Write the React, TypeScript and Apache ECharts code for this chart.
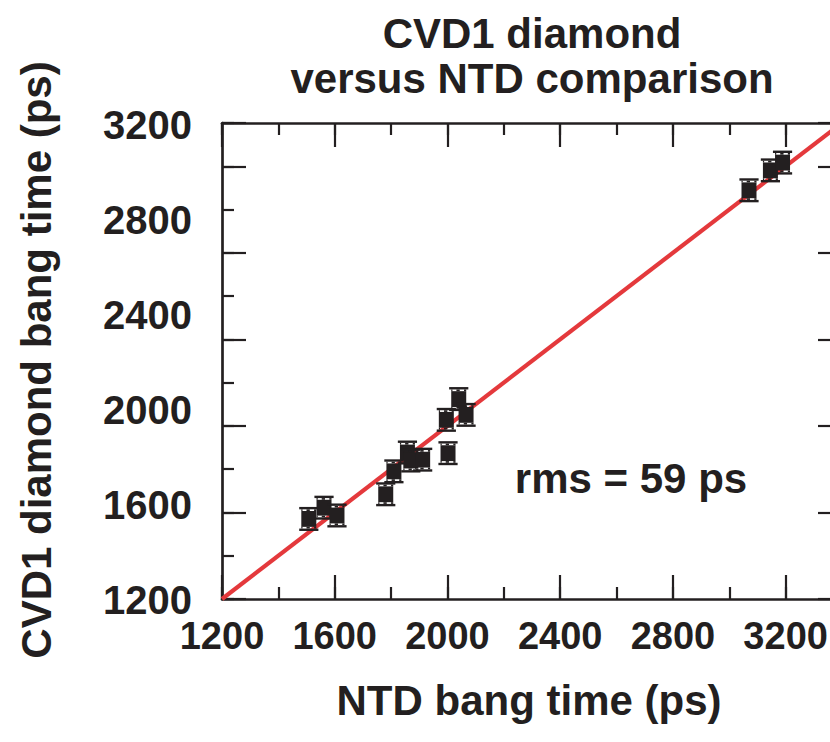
import React, { useEffect, useRef } from "react";
import * as echarts from "echarts";

// NTD (x) and CVD1 diamond (y) bang times, ps
const ntdBangTimes = [1508, 1562, 1608, 1781, 1810, 1858, 1870, 1912, 1996, 2002, 2040, 2066, 3070, 3146, 3189];
const cvdBangTimes = [1570, 1622, 1586, 1684, 1790, 1877, 1840, 1844, 2028, 1874, 2124, 2051, 3089, 3181, 3217];
const cvdErrors = [50, 50, 50, 50, 50, 50, 50, 50, 50, 50, 50, 50, 50, 50, 50];

// y = x reference line
const fitLineX = [1200, 3400];
const fitLineY = [1200, 3400];

// tick labels
const xTickValues = [1200, 1600, 2000, 2400, 2800, 3200];
const yTickValues = [1200, 1600, 2000, 2400, 2800, 3200];
const axisMax = 3400;

const INK = "#231f20";
const RED = "#e4393c";
const FONT = "'Liberation Sans', Arial, Helvetica, sans-serif";

export default function App() {
  const ref = useRef<HTMLDivElement>(null);

  useEffect(() => {
    if (!ref.current) return;
    const chart = echarts.init(ref.current, null, { renderer: "svg" });

    const min = xTickValues[0];
    const major = xTickValues[1] - xTickValues[0];
    const minor = major / 2;

    const points = ntdBangTimes.map((x, i) => [x, cvdBangTimes[i], cvdErrors[i]]);
    const line = fitLineX.map((x, i) => [x, fitLineY[i]]);
    const plain = (v: number) => String(v);

    const baseAxis = {
      type: "value",
      min,
      max: axisMax,
      splitLine: { show: false },
      gridIndex: 0,
    };
    const longTickAxis = (position: string, withLabels: boolean) => ({
      ...baseAxis,
      position,
      interval: major,
      axisLine: { show: true, onZero: false, lineStyle: { color: INK, width: 2.7 } },
      axisTick: { show: true, inside: true, length: 24, lineStyle: { color: INK, width: 2.2 } },
      axisLabel: withLabels
        ? {
            show: true,
            showMaxLabel: false,
            formatter: plain,
            margin: 18,
            fontSize: 38,
            fontWeight: "bold",
            fontFamily: FONT,
            color: INK,
          }
        : { show: false },
    });
    const shortTickAxis = (position: string) => ({
      ...baseAxis,
      position,
      interval: minor,
      axisLine: { show: false, onZero: false },
      axisTick: { show: true, inside: true, length: 12, lineStyle: { color: INK, width: 2.2 } },
      axisLabel: { show: false },
    });

    const option: any = {
      animation: false,
      backgroundColor: "#ffffff",
      title: {
        text: "CVD1 diamond\nversus NTD comparison",
        left: 532,
        top: 11,
        textAlign: "center",
        padding: 0,
        textStyle: {
          fontSize: 42,
          fontWeight: "bold",
          fontFamily: FONT,
          color: INK,
          lineHeight: 45,
        },
      },
      grid: [
        { left: 222, top: 123, width: 620, height: 476 },
        { left: 222, top: 125, width: 620, height: 475 },
      ],
      xAxis: [
        longTickAxis("bottom", true),
        shortTickAxis("bottom"),
        longTickAxis("top", false),
        shortTickAxis("top"),
        { type: "value", gridIndex: 1, show: false, min: 0, max: 1 },
      ],
      yAxis: [
        longTickAxis("left", false),
        shortTickAxis("left"),
        longTickAxis("right", false),
        shortTickAxis("right"),
        {
          type: "value",
          gridIndex: 1,
          position: "left",
          min: yTickValues[0],
          max: yTickValues[yTickValues.length - 1],
          interval: yTickValues[1] - yTickValues[0],
          axisLine: { show: false },
          axisTick: { show: false },
          splitLine: { show: false },
          axisLabel: {
            show: true,
            formatter: plain,
            margin: 30,
            fontSize: 40,
            fontWeight: "bold",
            fontFamily: FONT,
            color: INK,
          },
        },
      ],
      graphic: [
        {
          type: "text",
          x: 529,
          y: 700,
          style: {
            text: "NTD bang time (ps)",
            fontSize: 42,
            fontWeight: "bold",
            fontFamily: FONT,
            fill: INK,
            align: "center",
            verticalAlign: "middle",
            textAlign: "center",
            textVerticalAlign: "middle",
          },
        },
        {
          type: "text",
          x: 36,
          y: 360,
          rotation: Math.PI / 2,
          style: {
            text: "CVD1 diamond bang time (ps)",
            fontSize: 42,
            fontWeight: "bold",
            fontFamily: FONT,
            fill: INK,
            align: "center",
            verticalAlign: "middle",
            textAlign: "center",
            textVerticalAlign: "middle",
          },
        },
        {
          type: "text",
          x: 631,
          y: 478,
          style: {
            text: "rms = 59 ps",
            fontSize: 42,
            fontWeight: "bold",
            fontFamily: FONT,
            fill: INK,
            align: "center",
            verticalAlign: "middle",
            textAlign: "center",
            textVerticalAlign: "middle",
          },
        },
      ],
      series: [
        {
          type: "line",
          xAxisIndex: 0,
          yAxisIndex: 0,
          data: line,
          showSymbol: false,
          symbol: "none",
          lineStyle: { color: RED, width: 4.2 },
          z: 1,
          silent: true,
        },
        {
          type: "custom",
          xAxisIndex: 0,
          yAxisIndex: 0,
          data: points,
          z: 3,
          renderItem: (_params: any, api: any) => {
            const x = api.value(0);
            const y = api.value(1);
            const e = api.value(2);
            const c = api.coord([x, y]);
            const cx = c[0];
            const yt = api.coord([x, y + e])[1];
            const yb = api.coord([x, y - e])[1];
            const capH = 2.4;
            const gapH = 1.7;
            const hw = 7.5;
            const cw = 9.6;
            const children: any[] = [];
            const rect = (x0: number, y0: number, w: number, h: number) => ({
              type: "rect",
              shape: { x: x0, y: y0, width: w, height: h },
              style: { fill: INK },
            });
            children.push(rect(cx - cw, yt - capH / 2, 2 * cw, capH));
            children.push(rect(cx - cw, yb - capH / 2, 2 * cw, capH));
            const bt = yt + capH / 2 + gapH;
            const bb = yb - capH / 2 - gapH;
            children.push(rect(cx - hw, bt, 2 * hw, bb - bt));
            const segs = [
              [-hw, -6.3],
              [-2.3, 1],
              [5.3, hw],
            ];
            for (const rowY of [yt + capH / 2, yb - capH / 2 - gapH]) {
              for (const [a, b] of segs) children.push(rect(cx + a, rowY, b - a, gapH));
            }
            return { type: "group", children };
          },
        },
      ],
    };

    chart.setOption(option);
    return () => chart.dispose();
  }, []);

  return (
    <div
      style={{
        position: "absolute",
        left: 0,
        top: 0,
        width: 830,
        height: 742,
        overflow: "hidden",
        background: "#fff",
      }}
    >
      <div ref={ref} style={{ width: 860, height: 742 }} />
    </div>
  );
}
